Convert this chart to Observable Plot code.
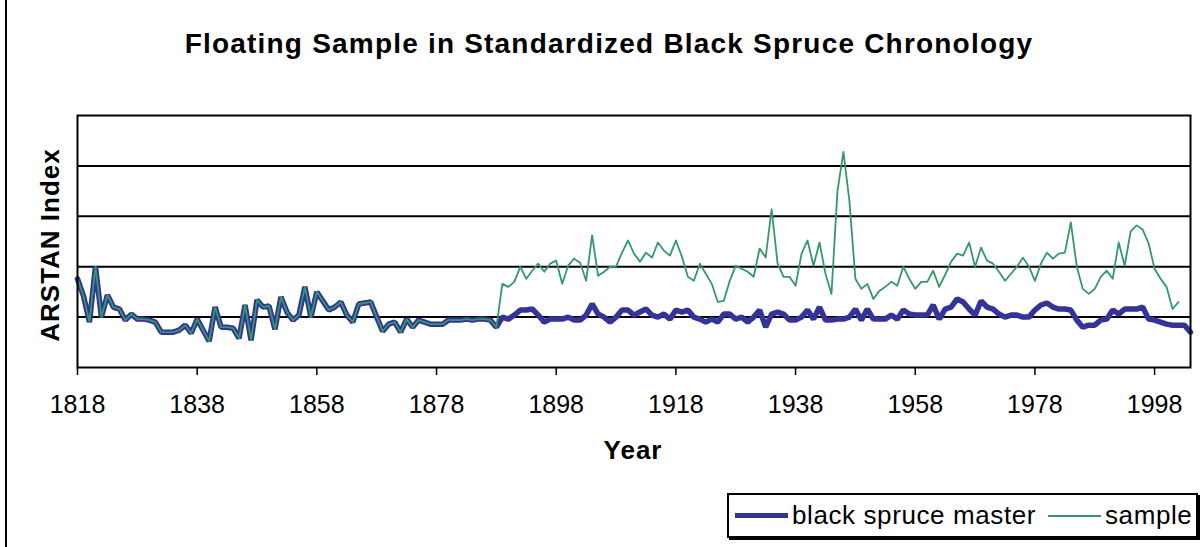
<!DOCTYPE html>
<html><head><meta charset="utf-8">
<script src="https://cdn.jsdelivr.net/npm/d3@7"></script>
<script src="https://cdn.jsdelivr.net/npm/@observablehq/plot@0.6"></script>
<style>
html,body{margin:0;padding:0;background:#fff;}
#chart{position:relative;width:1204px;height:547px;overflow:hidden;font-family:Arial,"Liberation Sans",sans-serif;color:#000;}
#border{position:absolute;left:5px;top:-3px;width:1220px;height:560px;border:2px solid #000;box-sizing:border-box;}
#title{position:absolute;left:0;width:1218px;top:28px;text-align:center;font-weight:bold;font-size:28px;letter-spacing:1.2px;}
#ylabel{position:absolute;left:50px;top:245px;transform:translate(-50%,-50%) rotate(-90deg);font-weight:bold;font-size:26px;white-space:nowrap;letter-spacing:1px;}
#xlabel{position:absolute;left:633px;top:450px;transform:translate(-50%,-50%);font-weight:bold;font-size:26px;letter-spacing:1px;}
#plot{position:absolute;left:0;top:90px;}
#legend{position:absolute;left:727px;top:493px;width:471px;height:45px;border:2px solid #000;box-sizing:border-box;box-shadow:2px 2px 0 #000;background:#fff;font-size:26px;letter-spacing:0.6px;}
#legend .item{position:absolute;top:0;height:41px;display:flex;align-items:center;white-space:nowrap;}
#legend .sw{display:inline-block;width:53px;margin-right:4px;}
</style>
</head><body>
<div id="chart">
  <div id="border"></div>
  <div id="title">Floating Sample in Standardized Black Spruce Chronology</div>
  <div id="ylabel">ARSTAN Index</div>
  <div id="plot"></div>
  <div id="xlabel">Year</div>
  <div id="legend"></div>
</div>
<script>
const startYear = 1818;
const tickYears = [1818, 1838, 1858, 1878, 1898, 1918, 1938, 1958, 1978, 1998];
const gridValues = [1.0, 1.5, 2.0, 2.5];
const seriesNames = ["black spruce master", "sample"];
const seriesColors = ["#333399", "#339966"];

// black spruce master, 1818–2004
const master = [
  1.38,1.21,0.95,1.50,1.00,1.22,1.10,1.08,0.97,1.03,
  0.98,0.98,0.97,0.95,0.85,0.85,0.85,0.87,0.92,0.84,
  0.98,0.87,0.76,1.10,0.90,0.90,0.89,0.79,1.12,0.77,
  1.17,1.10,1.11,0.88,1.20,1.05,0.97,1.02,1.30,1.00,
  1.25,1.16,1.07,1.10,1.15,1.02,0.95,1.13,1.14,1.15,
  1.00,0.86,0.93,0.95,0.85,0.98,0.90,0.97,0.95,0.93,
  0.93,0.93,0.97,0.97,0.97,0.98,0.97,0.98,0.98,0.97,
  0.90,1.00,0.98,1.02,1.07,1.07,1.08,1.02,0.95,0.98,
  0.98,0.98,1.00,0.97,0.97,1.02,1.13,1.03,1.00,0.95,
  1.00,1.07,1.07,1.02,1.05,1.08,1.02,1.00,1.03,0.98,
  1.07,1.05,1.07,1.00,0.98,0.95,0.98,0.95,1.03,1.03,
  0.98,1.00,0.95,1.00,1.07,0.90,1.03,1.05,1.03,0.97,
  0.97,1.00,1.07,0.98,1.10,0.97,0.97,0.98,0.98,1.00,
  1.08,0.97,1.08,0.98,0.98,0.98,1.02,0.98,1.07,1.03,
  1.02,1.02,1.02,1.12,0.98,1.08,1.10,1.18,1.15,1.08,
  1.02,1.16,1.10,1.08,1.03,1.00,1.02,1.02,1.00,1.00,
  1.07,1.12,1.14,1.10,1.08,1.08,1.07,0.97,0.90,0.92,
  0.92,0.97,0.98,1.07,1.03,1.08,1.08,1.08,1.10,0.98,
  0.97,0.95,0.93,0.92,0.92,0.92,0.85
];

// sample, 1818–2002
const sample = [
  1.38,1.21,0.95,1.50,1.00,1.22,1.10,1.08,0.97,1.03,
  0.98,0.98,0.97,0.95,0.85,0.85,0.85,0.87,0.92,0.84,
  0.98,0.87,0.76,1.10,0.90,0.90,0.89,0.79,1.12,0.77,
  1.17,1.10,1.11,0.88,1.20,1.05,0.97,1.02,1.30,1.00,
  1.25,1.16,1.07,1.10,1.15,1.02,0.95,1.13,1.14,1.15,
  1.00,0.86,0.93,0.95,0.85,0.98,0.90,0.97,0.95,0.93,
  0.93,0.93,0.97,0.97,0.97,0.98,0.97,0.98,0.98,0.97,
  0.90,1.33,1.30,1.35,1.50,1.38,1.46,1.53,1.45,1.53,
  1.56,1.33,1.51,1.58,1.54,1.36,1.81,1.41,1.45,1.50,
  1.50,1.64,1.76,1.63,1.55,1.64,1.59,1.74,1.66,1.61,
  1.76,1.60,1.40,1.36,1.53,1.43,1.33,1.15,1.16,1.36,
  1.51,1.48,1.45,1.40,1.68,1.59,2.07,1.53,1.40,1.40,
  1.31,1.63,1.76,1.51,1.74,1.43,1.23,2.25,2.64,2.15,
  1.38,1.28,1.33,1.18,1.26,1.30,1.35,1.31,1.50,1.38,
  1.28,1.35,1.35,1.46,1.30,1.42,1.55,1.63,1.61,1.74,
  1.50,1.69,1.56,1.53,1.45,1.36,1.43,1.50,1.59,1.50,
  1.36,1.53,1.64,1.58,1.63,1.64,1.94,1.50,1.28,1.23,
  1.28,1.40,1.46,1.38,1.74,1.51,1.85,1.91,1.87,1.73,
  1.48,1.38,1.30,1.08,1.15
];

const masterData = master.map((v, i) => ({year: startYear + i, value: v}));
const sampleData = sample.map((v, i) => ({year: startYear + i, value: v}));

const chart = Plot.plot({
  width: 1204,
  height: 340,
  marginLeft: 77,
  marginRight: 14,
  marginTop: 25,
  marginBottom: 63,
  style: {fontFamily: "Arial, 'Liberation Sans', sans-serif", background: "transparent", overflow: "visible"},
  x: {domain: [1818, 2004], axis: null},
  y: {domain: [0.5, 3.0], axis: null},
  marks: [
    Plot.ruleY(gridValues, {stroke: "#000", strokeWidth: 2}),
    Plot.line(masterData, {x: "year", y: "value", stroke: seriesColors[0], strokeWidth: 5.5, strokeLinejoin: "miter"}),
    Plot.line(sampleData, {x: "year", y: "value", stroke: seriesColors[1], strokeWidth: 1.8}),
    Plot.frame({stroke: "#000", strokeWidth: 2}),
    Plot.axisX({ticks: tickYears, tickFormat: d => String(d), tickSize: 8, tickPadding: 20, fontSize: 25, stroke: "#000", strokeWidth: 1.5, label: null})
  ]
});
document.getElementById("plot").appendChild(chart);

const legend = document.getElementById("legend");
const offsets = [6, 319];
seriesNames.forEach((name, i) => {
  const item = document.createElement("div");
  item.className = "item";
  item.style.left = offsets[i] + "px";
  const sw = document.createElement("span");
  sw.className = "sw";
  sw.style.borderTop = (i === 0 ? 5 : 2) + "px solid " + seriesColors[i];
  item.appendChild(sw);
  item.appendChild(document.createTextNode(name));
  legend.appendChild(item);
});
</script>
</body></html>
